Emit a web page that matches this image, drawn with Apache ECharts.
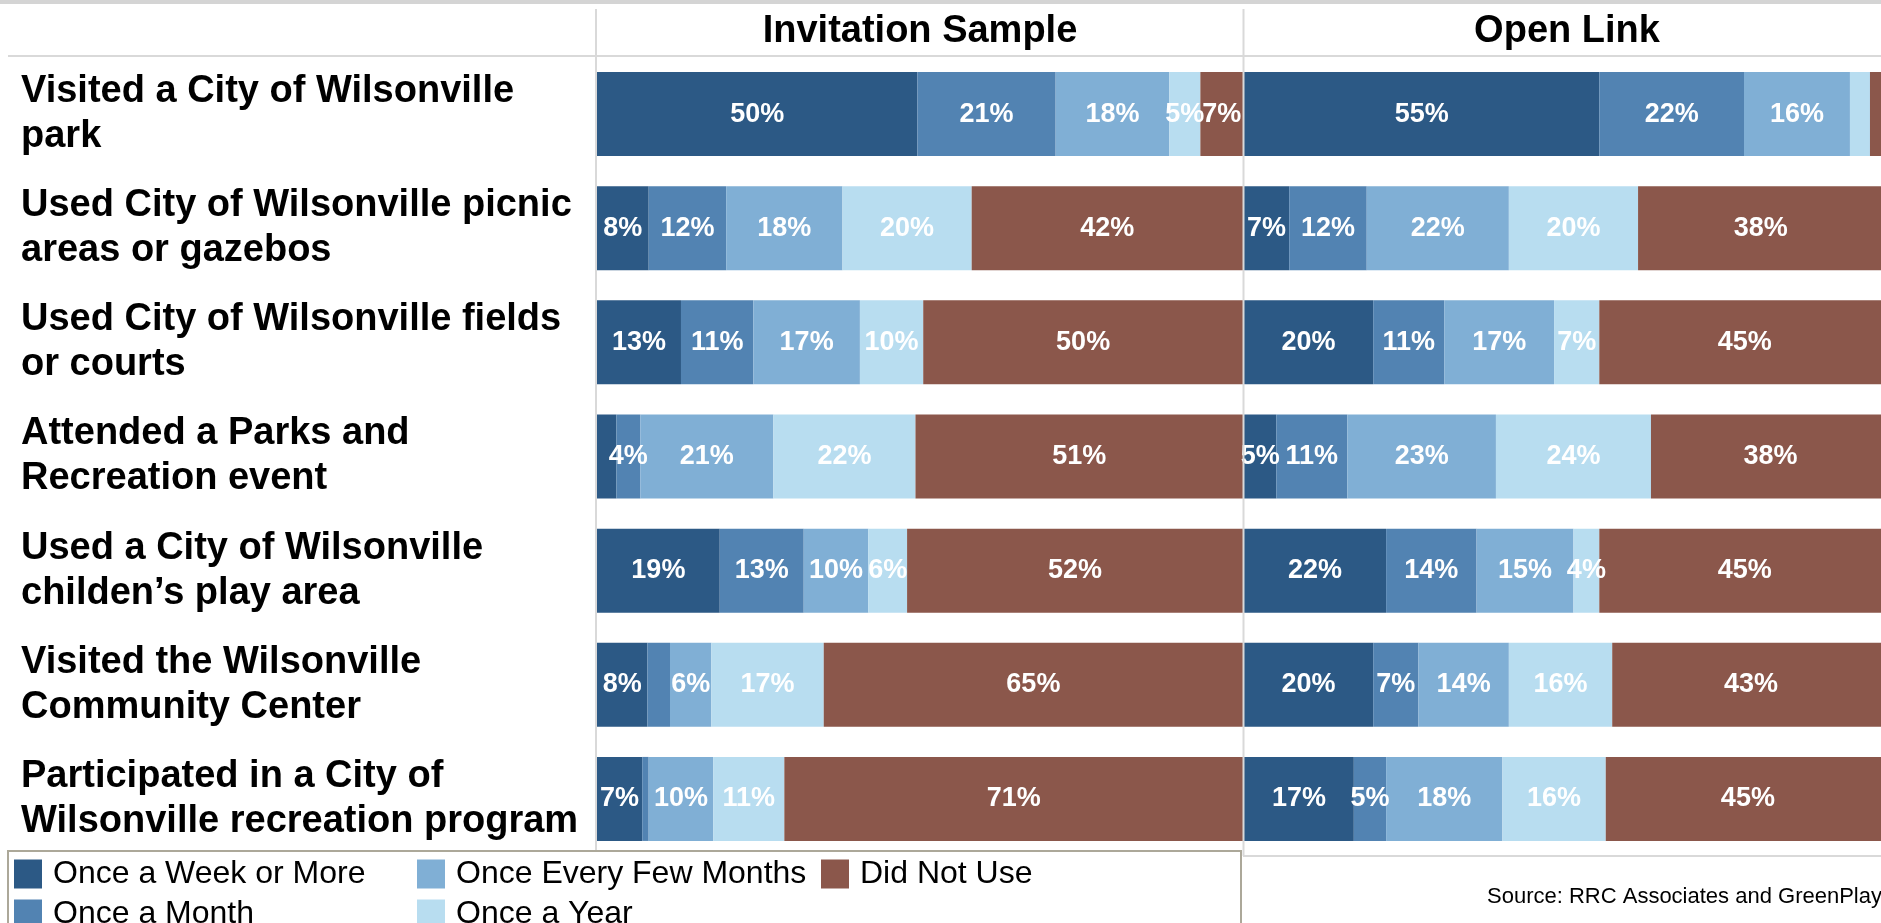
<!DOCTYPE html>
<html><head><meta charset="utf-8">
<script src="https://cdn.jsdelivr.net/npm/echarts@6/dist/echarts.min.js"></script>
<style>html,body{margin:0;padding:0;background:#fff;}#c{width:1881px;height:923px;}</style>
</head><body><div id="c"></div>
<script>
const categories = [
  'Visited a City of Wilsonville\npark',
  'Used City of Wilsonville picnic\nareas or gazebos',
  'Used City of Wilsonville fields\nor courts',
  'Attended a Parks and\nRecreation event',
  'Used a City of Wilsonville\nchilden\u2019s play area',
  'Visited the Wilsonville\nCommunity Center',
  'Participated in a City of\nWilsonville recreation program'
];
const seriesNames = ['Once a Week or More','Once a Month','Once Every Few Months','Once a Year','Did Not Use'];
const panelTitles = ['Invitation Sample','Open Link'];
// Invitation Sample
const invWeek       = [49.6, 8, 13, 3, 19, 7.8, 7];
const invMonth      = [21.4, 12, 11.2, 3.7, 13, 3.5, 1];
const invFewMonths  = [17.6, 18, 16.5, 20.6, 10, 6.4, 10];
const invYear       = [4.8, 20, 9.8, 22, 6, 17.4, 11];
const invNotUse     = [6.6, 42, 49.5, 50.7, 52, 64.9, 71];
// Open Link
const olWeek        = [55, 7, 20, 5, 22, 20, 17];
const olMonth       = [22.4, 12, 11, 11, 14, 7, 5];
const olFewMonths   = [16.4, 22, 17, 23, 15, 14, 18];
const olYear        = [3.1, 20, 7, 24, 4, 16, 16];
const olNotUse      = [3.1, 38, 45, 38, 45, 43, 45];
const sourceText = 'Source: RRC Associates and GreenPlay';

const colors = ['#2c5985','#5283b2','#80afd5','#b8ddf0','#8b574b'];
const FF = '"Liberation Sans", Arial, sans-serif';
const panels = [
  [invWeek, invMonth, invFewMonths, invYear, invNotUse],
  [olWeek, olMonth, olFewMonths, olYear, olNotUse]
];

const series = [];
panels.forEach((sets, gi) => {
  sets.forEach((vals, si) => {
    series.push({
      type: 'bar', name: seriesNames[si], stack: 'p' + gi,
      xAxisIndex: gi, yAxisIndex: gi, data: vals, barWidth: 84,
      itemStyle: { color: colors[si] },
      label: {
        show: true, position: 'inside', color: '#fff', fontSize: 27, fontWeight: 'bold', fontFamily: FF,
        formatter: p => p.value >= 3.6 ? Math.round(p.value) + '%' : ''
      },
      emphasis: { disabled: true }
    });
  });
});

const legendPos = [[14, 858], [14, 898], [417, 858], [417, 898], [821, 858]];
const legends = seriesNames.map((n, i) => ({
  left: legendPos[i][0], top: legendPos[i][1], itemWidth: 28, itemHeight: 29, icon: 'rect', padding: 0,
  selectedMode: false, data: [n],
  textStyle: { fontSize: 32, color: '#000', fontFamily: FF, padding: [0, 0, 0, 6] }
}));

const chart = echarts.init(document.getElementById('c'));
chart.setOption({
  animation: false,
  backgroundColor: '#fff',
  grid: [
    { left: 597, top: 57, width: 646, height: 799, outerBoundsMode: 'none', containLabel: false },
    { left: 1244, top: 57, width: 646, height: 799, outerBoundsMode: 'none', containLabel: false }
  ],
  xAxis: [0, 1].map(i => ({
    type: 'value', gridIndex: i, min: 0, max: 100, show: false
  })),
  yAxis: [0, 1].map(i => ({
    type: 'category', gridIndex: i, data: categories, inverse: true,
    axisLine: { show: false }, axisTick: { show: false }, splitLine: { show: false },
    axisLabel: i === 0 ? {
      show: true, align: 'left', margin: 576, fontSize: 38, fontWeight: 'bold', color: '#000',
      fontFamily: FF, lineHeight: 45
    } : { show: false }
  })),
  legend: legends,
  series: series,
  graphic: [
    { type: 'rect', shape: { x: 0, y: 0, width: 1881, height: 4 }, style: { fill: '#d4d4d4' }, silent: true },
    { type: 'line', shape: { x1: 8, y1: 56, x2: 1881, y2: 56 }, style: { stroke: '#d9d9d9', lineWidth: 2 }, silent: true, z: 10 },
    { type: 'line', shape: { x1: 596, y1: 9, x2: 596, y2: 851 }, style: { stroke: '#d9d9d9', lineWidth: 2 }, silent: true, z: 10 },
    { type: 'line', shape: { x1: 1243.5, y1: 9, x2: 1243.5, y2: 856 }, style: { stroke: '#d9d9d9', lineWidth: 2 }, silent: true, z: 10 },
    { type: 'line', shape: { x1: 1243, y1: 856, x2: 1881, y2: 856 }, style: { stroke: '#d9d9d9', lineWidth: 2 }, silent: true, z: 10 },
    { type: 'rect', shape: { x: 8, y: 851, width: 1233, height: 90 }, style: { fill: 'none', stroke: '#aca899', lineWidth: 2 }, silent: true, z: 10 },
    { type: 'text', x: 920, y: 32, style: { text: panelTitles[0], font: 'bold 38px ' + FF, fill: '#000', align: 'center', verticalAlign: 'middle' }, silent: true },
    { type: 'text', x: 1567, y: 32, style: { text: panelTitles[1], font: 'bold 38px ' + FF, fill: '#000', align: 'center', verticalAlign: 'middle' }, silent: true },
    { type: 'text', x: 1487, y: 897, style: { text: sourceText, font: '22px ' + FF, fill: '#000', align: 'left', verticalAlign: 'middle' }, silent: true }
  ]
});
</script></body></html>
